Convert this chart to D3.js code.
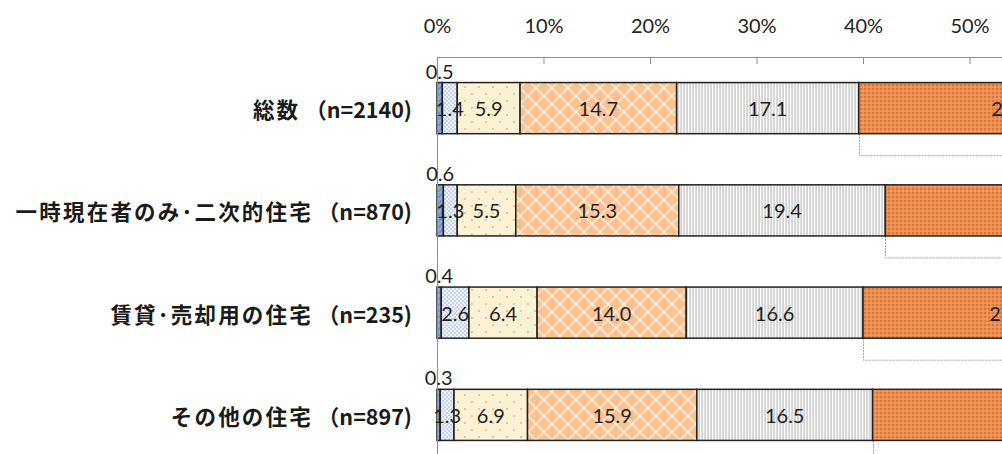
<!DOCTYPE html>
<html lang="ja">
<head>
<meta charset="utf-8">
<script src="https://cdn.jsdelivr.net/npm/d3@7"></script>
<style>
  html, body { margin: 0; padding: 0; background: #fff; overflow: hidden; }
  svg { display: block; }
</style>
</head>
<body>
<div id="chart"></div>
<script>
// categories (top to bottom): name and sample size
const categories = [
  '総数',
  '一時現在者のみ･二次的住宅',
  '賃貸･売却用の住宅',
  'その他の住宅'
];
const sampleN = [2140, 870, 235, 897];

// series values (%), per category; last series is cropped in the picture, values estimated
const s1 = [0.5, 0.6, 0.4, 0.3];
const s2 = [1.4, 1.3, 2.6, 1.3];
const s3 = [5.9, 5.5, 6.4, 6.9];
const s4 = [14.7, 15.3, 14.0, 15.9];
const s5 = [17.1, 19.4, 16.6, 16.5];
const s6 = [28.6, 26.6, 27.4, 28.8];

// tick labels visible in the (cropped) picture
const tickValues = [0, 10, 20, 30, 40, 50];

(function () {
  'use strict';

  const W = 1002, H = 454;
  const keys = ['s1', 's2', 's3', 's4', 's5', 's6'];
  const series = { s1, s2, s3, s4, s5, s6 };

  const table = categories.map((c, i) => {
    const row = { cat: c };
    keys.forEach(k => { row[k] = series[k][i]; });
    return row;
  });

  const svg = d3.select('#chart').append('svg')
    .attr('width', W)
    .attr('height', H);

  const defs = svg.append('defs');

  // --- fill patterns ---
  function pat(id, w, h, bg) {
    const p = defs.append('pattern')
      .attr('id', id)
      .attr('patternUnits', 'userSpaceOnUse')
      .attr('width', w).attr('height', h);
    p.append('rect').attr('width', w).attr('height', h).attr('fill', bg);
    return p;
  }

  const p1 = pat('p1', 6, 6, '#8eaad8');
  p1.append('path').attr('d', 'M0,6 L6,0').attr('stroke', '#6f8fc4').attr('stroke-width', 1.5);

  const p2 = pat('p2', 4, 4, '#c6d5ec');
  p2.append('rect').attr('x', 0).attr('y', 0).attr('width', 2).attr('height', 2).attr('fill', '#eef3fa');
  p2.append('rect').attr('x', 2).attr('y', 2).attr('width', 2).attr('height', 2).attr('fill', '#eef3fa');

  const p3 = pat('p3', 14, 14, '#fcf1d2');
  p3.append('circle').attr('cx', 3).attr('cy', 3).attr('r', 0.9).attr('fill', '#c9b98f');
  p3.append('circle').attr('cx', 10).attr('cy', 10).attr('r', 0.9).attr('fill', '#c9b98f');

  const p4 = pat('p4', 16, 16, '#fbc392');
  p4.append('path').attr('d', 'M0,0 L16,16 M16,0 L0,16')
    .attr('stroke', '#fff1e4').attr('stroke-width', 1.4);
  p4.append('circle').attr('cx', 8).attr('cy', 2).attr('r', 0.7).attr('fill', '#e7a570');
  p4.append('circle').attr('cx', 8).attr('cy', 14).attr('r', 0.7).attr('fill', '#e7a570');

  const p5 = pat('p5', 3, 4, '#d4d4d4');
  p5.append('rect').attr('x', 1).attr('y', 0).attr('width', 1.2).attr('height', 4).attr('fill', '#f8f8f8');

  const p6 = pat('p6', 4, 4, '#ec8e50');
  p6.append('rect').attr('x', 0).attr('y', 0).attr('width', 2).attr('height', 2).attr('fill', '#d9743a');
  p6.append('rect').attr('x', 2).attr('y', 2).attr('width', 2).attr('height', 2).attr('fill', '#f39a5e');

  const fills = { s1: 'url(#p1)', s2: 'url(#p2)', s3: 'url(#p3)', s4: 'url(#p4)', s5: 'url(#p5)', s6: 'url(#p6)' };

  // --- scales ---
  const x = d3.scaleLinear().domain([0, 100]).range([437, 1502]);
  const y = d3.scaleBand().domain(categories).range([57, 466])
    .paddingInner(0.5).paddingOuter(0.25);

  const stacked = d3.stack().keys(keys)(table);

  // connector lines (dotted, from s5/s6 boundary)
  const s5layer = stacked[4];
  svg.append('g').selectAll('path')
    .data(s5layer)
    .join('path')
    .attr('d', d => {
      const bx = Math.round(x(d[1])) + 0.5;
      const yb = y(d.data.cat) + y.bandwidth();
      const yl = yb + 22;
      return `M${bx},${yb} L${bx},${yl} L${W + 20},${yl}`;
    })
    .attr('fill', 'none')
    .attr('stroke', '#a0a0a0')
    .attr('stroke-width', 1)
    .attr('stroke-dasharray', '2,1');

  // top axis
  const axis = svg.append('g')
    .attr('transform', 'translate(0,57)')
    .call(d3.axisTop(x).tickValues(tickValues).tickSize(-7).tickPadding(16)
      .tickFormat(d => d + '%'));
  axis.select('.domain').attr('stroke', '#8c8c8c').attr('d', `M${x(0)},0.5H${W}`);
  axis.selectAll('.tick line').attr('stroke', '#8c8c8c');
  axis.selectAll('.tick text')
    .attr('fill', '#222')
    .attr('font-family', 'Lato, "Open Sans", sans-serif')
    .attr('font-size', '20px')
    .attr('y', -24);

  // bars
  const layers = svg.append('g').selectAll('g')
    .data(stacked)
    .join('g')
    .attr('fill', d => fills[d.key]);

  layers.selectAll('rect')
    .data(d => d)
    .join('rect')
    .attr('x', d => x(d[0]))
    .attr('y', d => y(d.data.cat))
    .attr('width', d => x(d[1]) - x(d[0]))
    .attr('height', y.bandwidth())
    .attr('stroke', '#222')
    .attr('stroke-width', 1.5);

  // vertical axis line at 0%
  svg.append('line')
    .attr('x1', x(0) + 0.5).attr('x2', x(0) + 0.5)
    .attr('y1', 57).attr('y2', H)
    .attr('stroke', '#8c8c8c');

  // value labels (skip those lying wholly past the right edge)
  const labelFont = 'Lato, "Open Sans", sans-serif';
  stacked.forEach((layer, li) => {
    svg.append('g').selectAll('text')
      .data(layer.filter(d => x((d[0] + d[1]) / 2) - 20 < W))
      .join('text')
      .attr('x', d => x((d[0] + d[1]) / 2))
      .attr('y', d => li === 0
        ? y(d.data.cat) - 12
        : y(d.data.cat) + y.bandwidth() / 2)
      .attr('text-anchor', 'middle')
      .attr('dominant-baseline', 'central')
      .attr('font-family', labelFont)
      .attr('font-size', '20px')
      .attr('fill', '#1f1f1f')
      .text(d => (d[1] - d[0]).toFixed(1));
  });

  // category labels
  const catText = svg.append('g').selectAll('text')
    .data(categories)
    .join('text')
    .attr('x', 412)
    .attr('y', d => y(d) + y.bandwidth() / 2)
    .attr('text-anchor', 'end')
    .attr('dominant-baseline', 'central')
    .attr('font-family', '"Noto Sans CJK JP", sans-serif')
    .attr('font-weight', 700)
    .attr('font-size', '21.5px')
    .attr('fill', '#1a1a1a');
  catText.append('tspan')
    .attr('letter-spacing', '2.2px')
    .text(d => d);
  catText.append('tspan')
    .text((d, i) => ' （n=' + sampleN[i] + ')');
})();
</script>
</body>
</html>
